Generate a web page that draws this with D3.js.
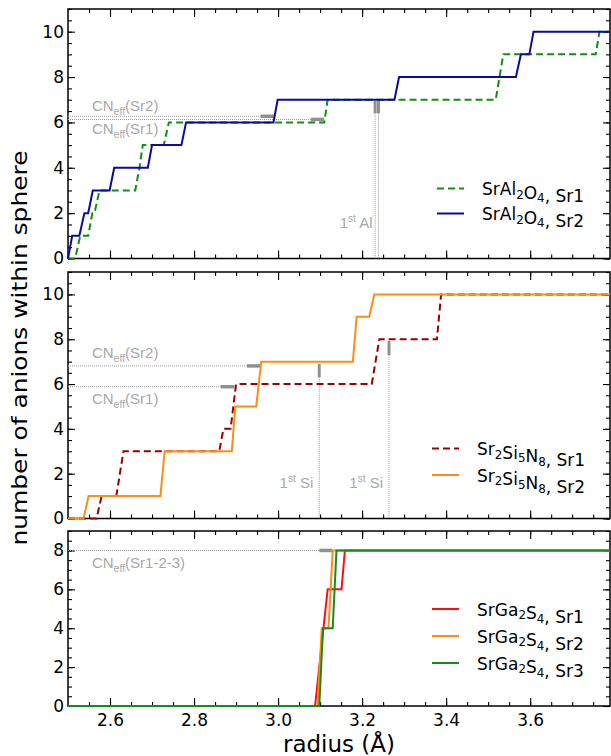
<!DOCTYPE html>
<html>
<head>
<meta charset="utf-8">
<script src="https://cdn.jsdelivr.net/npm/d3@7"></script>
<style>
body { margin: 0; background: #fff; }
text { font-family: "DejaVu Sans", sans-serif; }
.tick text { font-size: 17px; fill: #000; }
.tick line { stroke: #000; stroke-width: 1.1; }
.note { font-family: "Liberation Sans", Arial, sans-serif; font-size: 15px; fill: #a8a8a8; }
.legend text { font-size: 17px; fill: #000; }
</style>
</head>
<body>
<div id="chart"></div>
<script>
// number of anions within a sphere of given radius
// each array holds [radius (Å), count] vertices
var sral_sr1 = [[2.5,0],[2.517,0],[2.529,1],[2.548,1],[2.558,2],[2.563,2],[2.575,3],[2.66,3],[2.67,4],[2.678,5],
                [2.728,5],[2.74,6],[3.11,6],[3.118,7],[3.518,7],[3.527,8],[3.536,9],[3.756,9],[3.765,10],[3.79,10]];
var sral_sr2 = [[2.5,0],[2.51,1],[2.527,1],[2.539,2],[2.548,2],[2.559,3],[2.599,3],[2.61,4],[2.69,4],[2.70,5],
                [2.77,5],[2.781,6],[2.989,6],[2.999,7],[3.277,7],[3.288,8],[3.566,8],[3.578,9],[3.598,9],[3.608,10],[3.79,10]];

var sisn_sr1 = [[2.5,0],[2.568,0],[2.58,1],[2.615,1],[2.632,3],[2.86,3],[2.87,4],[2.887,4],[2.90,6],
                [3.223,6],[3.241,8],[3.378,8],[3.388,10],[3.79,10]];
var sisn_sr2 = [[2.5,0],[2.537,0],[2.549,1],[2.72,1],[2.73,3],[2.89,3],[2.898,5],[2.948,5],[2.96,7],
                [3.178,7],[3.187,9],[3.217,9],[3.229,10],[3.79,10]];

var sga_sr1 = [[2.5,0],[3.088,0],[3.118,6],[3.151,6],[3.159,8],[3.79,8]];
var sga_sr2 = [[2.5,0],[3.094,0],[3.104,4],[3.12,4],[3.13,8],[3.79,8]];
var sga_sr3 = [[2.5,0],[3.098,0],[3.107,4],[3.13,4],[3.139,8],[3.79,8]];

// effective coordination numbers: value, grey marker from r0 to r1, label position
var cn_sral = [{name: "Sr2", value: 6.27, r0: 2.958, r1: 2.99, lx: 2.557, ly: 6.52},
               {name: "Sr1", value: 6.13, r0: 3.078, r1: 3.11, lx: 2.557, ly: 5.51}];
var cn_sisn = [{name: "Sr2", value: 6.81, r0: 2.926, r1: 2.958, lx: 2.557, ly: 7.18},
               {name: "Sr1", value: 5.88, r0: 2.863, r1: 2.896, lx: 2.557, ly: 5.11}];
var cn_sga  = [{name: "Sr1-2-3", value: 8.0, r0: 3.098, r1: 3.129, lx: 2.557, ly: 7.1}];

// first cation neighbour distances: radius, grey marker from v0 to v1, label
var first_sral = [{r: 3.231, v0: 6.4, v1: 6.95, label: null},
                  {r: 3.239, v0: 6.4, v1: 6.95, label: "Al"}];
var first_sisn = [{r: 3.098, v0: 6.3, v1: 6.9, label: "Si"},
                  {r: 3.264, v0: 7.29, v1: 7.92, label: "Si"}];
var first_sga = [];

var xTicks = [2.6, 2.8, 3.0, 3.2, 3.4, 3.6];

var width = 611, height = 756;
var x = d3.scaleLinear().domain([2.5, 3.79]).range([68, 610]);

var panels = [
  {top: 9, bottom: 258.5, ymax: 11, cn: cn_sral, first: first_sral,
   legend: {x: 437, y: 188.5, dy: 25},
   series: [{data: sral_sr1, color: "#109010", dash: "7,4", label: "SrAl_2O_4, Sr1"},
            {data: sral_sr2, color: "#0a0a9e", dash: null, label: "SrAl_2O_4, Sr2"}]},
  {top: 272, bottom: 518.5, ymax: 11, cn: cn_sisn, first: first_sisn,
   legend: {x: 432, y: 448.5, dy: 26.5},
   series: [{data: sisn_sr1, color: "#990000", dash: "7,4", label: "Sr_2Si_5N_8, Sr1"},
            {data: sisn_sr2, color: "#ff8c14", dash: null, label: "Sr_2Si_5N_8, Sr2"}]},
  {top: 531, bottom: 706, ymax: 9, cn: cn_sga, first: first_sga,
   legend: {x: 432, y: 609, dy: 27},
   series: [{data: sga_sr1, color: "#ff1010", dash: null, label: "SrGa_2S_4, Sr1"},
            {data: sga_sr2, color: "#ff8c14", dash: null, label: "SrGa_2S_4, Sr2"},
            {data: sga_sr3, color: "#1a8a1a", dash: null, label: "SrGa_2S_4, Sr3"}]}
];

var svg = d3.select("#chart").append("svg")
    .attr("width", width)
    .attr("height", height);

// writes "A_2B_4" style labels with subscripts
function subText(sel, str, size) {
  var parts = str.split(/(_\d)/);
  parts.forEach(function(p) {
    if (!p) return;
    if (p[0] === "_") {
      sel.append("tspan").attr("font-size", size * 0.7).attr("dy", size * 0.22).text(p.slice(1));
      sel.append("tspan").attr("dy", -size * 0.22).attr("dx", 2).text("");
    } else {
      sel.append("tspan").text(p);
    }
  });
}

panels.forEach(function(p, i) {
  var y = d3.scaleLinear().domain([0, p.ymax]).range([p.bottom, p.top]);
  var g = svg.append("g");
  var last = i === panels.length - 1;

  // axes, ticks pointing inward on all four sides
  var minorX = d3.range(51, 76).map(function(k) { return k / 20; });
  var majorY = d3.range(0, p.ymax + 0.1, 2);
  var minorY = d3.range(0, p.ymax * 2 + 1).map(function(k) { return k / 2; });

  g.append("g").attr("transform", "translate(0," + p.bottom + ")")
    .call(d3.axisBottom(x).tickValues(minorX).tickSize(-4).tickFormat(""));
  g.append("g").attr("transform", "translate(0," + p.bottom + ")")
    .call(d3.axisBottom(x).tickValues(xTicks).tickSize(-8).tickPadding(8)
      .tickFormat(last ? d3.format(".1f") : ""));
  g.append("g").attr("transform", "translate(0," + p.top + ")")
    .call(d3.axisTop(x).tickValues(minorX).tickSize(-4).tickFormat(""));
  g.append("g").attr("transform", "translate(0," + p.top + ")")
    .call(d3.axisTop(x).tickValues(xTicks).tickSize(-8).tickFormat(""));

  g.append("g").attr("transform", "translate(68,0)")
    .call(d3.axisLeft(y).tickValues(minorY).tickSize(-4).tickFormat(""));
  g.append("g").attr("transform", "translate(68,0)")
    .call(d3.axisLeft(y).tickValues(majorY).tickSize(-7).tickPadding(4).tickFormat(d3.format("d")));
  g.append("g").attr("transform", "translate(610,0)")
    .call(d3.axisRight(y).tickValues(minorY).tickSize(-4).tickFormat(""));
  g.append("g").attr("transform", "translate(610,0)")
    .call(d3.axisRight(y).tickValues(majorY).tickSize(-7).tickFormat(""));

  g.selectAll(".domain").remove();

  g.append("rect")
    .attr("x", 68).attr("y", p.top)
    .attr("width", 610 - 68).attr("height", p.bottom - p.top)
    .attr("fill", "none").attr("stroke", "#000").attr("stroke-width", 1.5);

  // effective coordination number guides
  p.cn.forEach(function(c) {
    g.append("line")
      .attr("x1", 68).attr("x2", x(c.r0))
      .attr("y1", y(c.value)).attr("y2", y(c.value))
      .attr("stroke", "#999").attr("stroke-width", 1).attr("stroke-dasharray", "1,1");
    g.append("line")
      .attr("x1", x(c.r0)).attr("x2", x(c.r1))
      .attr("y1", y(c.value)).attr("y2", y(c.value))
      .attr("stroke", "#909090").attr("stroke-width", 3.5);
    var t = g.append("text").attr("class", "note")
      .attr("x", x(c.lx)).attr("y", y(c.ly));
    t.append("tspan").text("CN");
    t.append("tspan").attr("font-size", 10.5).attr("dy", 4).text("eff");
    t.append("tspan").attr("dy", -4).text("(" + c.name + ")");
  });

  // first cation neighbour markers
  p.first.forEach(function(f) {
    g.append("line")
      .attr("x1", x(f.r)).attr("x2", x(f.r))
      .attr("y1", y(f.v0)).attr("y2", p.bottom)
      .attr("stroke", "#999").attr("stroke-width", 1).attr("stroke-dasharray", "1,1");
    g.append("line")
      .attr("x1", x(f.r)).attr("x2", x(f.r))
      .attr("y1", y(f.v0)).attr("y2", y(f.v1))
      .attr("stroke", "#909090").attr("stroke-width", 3);
    if (f.label) {
      var t = g.append("text").attr("class", "note")
        .attr("x", x(f.r) - 6).attr("y", p.bottom - 31)
        .attr("text-anchor", "end");
      t.append("tspan").text("1");
      t.append("tspan").attr("font-size", 10).attr("dy", -6).text("st");
      t.append("tspan").attr("dy", 6).text(" " + f.label);
    }
  });

  // curves
  var line = d3.line().x(function(d) { return x(d[0]); }).y(function(d) { return y(d[1]); });
  p.series.forEach(function(s) {
    g.append("path")
      .datum(s.data)
      .attr("d", line)
      .attr("fill", "none")
      .attr("stroke", s.color)
      .attr("stroke-width", 2)
      .attr("stroke-dasharray", s.dash);
  });

  // legend
  var lg = g.append("g").attr("class", "legend");
  p.series.forEach(function(s, k) {
    var ly = p.legend.y + k * p.legend.dy;
    lg.append("line")
      .attr("x1", p.legend.x).attr("x2", p.legend.x + 27)
      .attr("y1", ly).attr("y2", ly)
      .attr("stroke", s.color).attr("stroke-width", 2)
      .attr("stroke-dasharray", s.dash);
    var t = lg.append("text").attr("x", p.legend.x + 45).attr("y", ly + 6.5);
    subText(t, s.label, 17);
  });
});

// axis titles
svg.append("text")
  .attr("x", 339).attr("y", 752)
  .attr("text-anchor", "middle")
  .attr("font-size", 23)
  .text("radius (Å)");

svg.append("text")
  .attr("transform", "translate(27,348) rotate(-90)")
  .attr("text-anchor", "middle")
  .attr("font-family", "'Liberation Sans Narrow', 'Liberation Sans', sans-serif")
  .attr("font-size", 21)
  .attr("textLength", 395)
  .attr("lengthAdjust", "spacingAndGlyphs")
  .text("number of anions within sphere");
</script>
</body>
</html>
